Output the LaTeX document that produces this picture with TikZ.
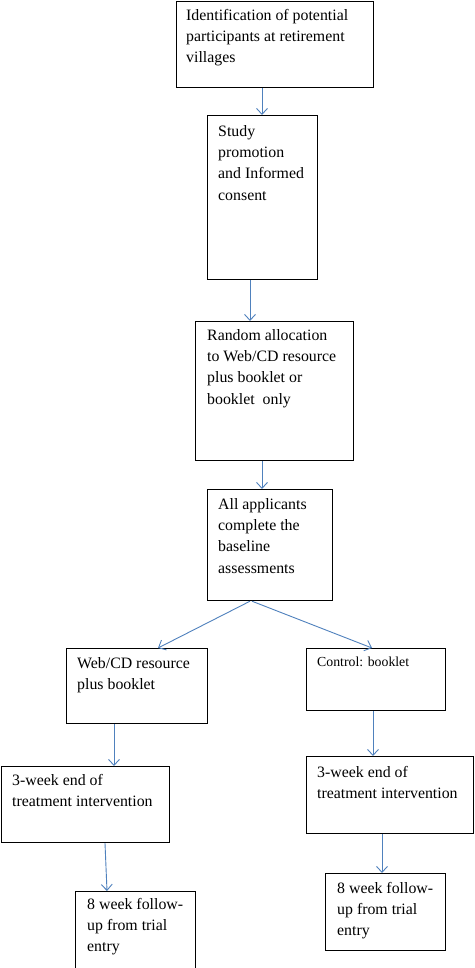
\documentclass[tikz,border=0pt]{standalone}
\usepackage{fontspec}
\setmainfont{Liberation Serif}
\usetikzlibrary{arrows.meta}
\definecolor{arrblue}{RGB}{79,129,189}
\newcommand\ts{\rule{0pt}{12pt}}
\tikzset{
  boxnode/.style={draw=black, line width=1.2pt, anchor=north west, inner sep=0pt},
  txt/.style={anchor=north west, inner sep=0pt, align=left, font=\fontsize{15.85}{21.3}\selectfont},
  smalltxt/.style={anchor=north west, inner sep=0pt, align=left, font=\fontsize{13.8}{18}\selectfont},
  arr/.style={draw=arrblue, line width=0.9pt, -{Straight Barb[length=6pt,width=11pt,line width=0.9pt]}}
}
\begin{document}
\begin{tikzpicture}[x=1pt,y=-1pt]
\useasboundingbox (0,0) rectangle (474,968);
\clip (0,0) rectangle (474,968);
\fill[white] (0,0) rectangle (474,968);
% boxes
\node[boxnode, minimum width=197pt, minimum height=86pt] (b1) at (176,0.6) {};
\node[boxnode, minimum width=110pt, minimum height=164pt] (b2) at (207,115) {};
\node[boxnode, minimum width=158pt, minimum height=139pt] (b3) at (195,321) {};
\node[boxnode, minimum width=125pt, minimum height=111pt] (b4) at (207,489) {};
\node[boxnode, minimum width=141pt, minimum height=75pt] (b5) at (66,648) {};
\node[boxnode, minimum width=139pt, minimum height=62pt] (b6) at (306,648) {};
\node[boxnode, minimum width=168pt, minimum height=76pt] (b7) at (1,766) {};
\node[boxnode, minimum width=167pt, minimum height=77pt] (b8) at (306,756) {};
\node[boxnode, minimum width=120pt, minimum height=77pt] (b9) at (75,891) {};
\node[boxnode, minimum width=120pt, minimum height=77pt] (b10) at (325,873) {};
% texts
\node[txt] (t1) at (186,8) {\ts Identification of potential\\participants at retirement\\villages};
\node[txt] (t2) at (218,124) {\ts Study\\promotion\\and Informed\\consent};
\node[txt] (t3) at (207,328) {\ts Random allocation\\to Web/CD resource\\plus booklet or\\booklet\ \ only};
\node[txt] (t4) at (218,497) {\ts All applicants\\complete the\\baseline\\assessments};
\node[txt] (t5) at (77,656) {\ts Web/CD resource\\plus booklet};
\node[smalltxt] (t6) at (317,654) {\ts Control: booklet};
\node[txt] (t7) at (12,773) {\ts 3-week end of\\treatment intervention};
\node[txt] (t8) at (317,765) {\ts 3-week end of\\treatment intervention};
\node[txt] (t9) at (87,897) {\ts 8 week follow-\\up from trial\\entry};
\node[txt] (t10) at (337,881) {\ts 8 week follow-\\up from trial\\entry};
% connectors
\draw[arr] (b1.south -| 262,0) -- (b2.north -| 262,0);
\draw[arr] (b2.south -| 250,0) -- (b3.north -| 250,0);
\draw[arr] (b3.south -| 262,0) -- (b4.north -| 262,0);
\draw[arr] (b4.south -| 250,0) -- (b5.north -| 158,0);
\draw[arr] (b4.south -| 252,0) -- (b6.north -| 372,0);
\draw[arr] (b5.south -| 114,0) -- (b7.north -| 114,0);
\draw[arr] (b6.south -| 373,0) -- (b8.north -| 373,0);
\draw[arr] (b7.south -| 105,0) -- (b9.north -| 107,0);
\draw[arr] (b8.south -| 382,0) -- (b10.north -| 382,0);
\end{tikzpicture}
\end{document}
